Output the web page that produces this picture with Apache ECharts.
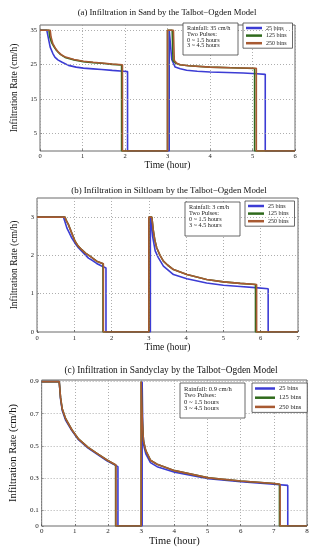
<!DOCTYPE html>
<html><head><meta charset="utf-8">
<script src="https://cdn.jsdelivr.net/npm/echarts@6/dist/echarts.min.js"></script>
<style>html,body{margin:0;padding:0;background:#fff}#c{width:318px;height:550px}</style>
</head><body><div id="c"></div>
<script>
// ---------- DATA ----------
const seriesNames = ['25 bins', '125 bins', '250 bins'];
const titles = [
  '(a) Infiltration in Sand by the Talbot\u2212Ogden Model',
  '(b) Infiltration in Siltloam by the Talbot\u2212Ogden Model',
  '(c) Infiltration in Sandyclay by the Talbot\u2212Ogden Model'
];
const rainfallLabels = ['Rainfall: 35 cm/h', 'Rainfall: 3 cm/h', 'Rainfall: 0.9 cm/h'];
const pulseLines = ['Two Pulses:', '0 ~ 1.5 hours', '3 ~ 4.5 hours'];
const xAxisTitle = 'Time (hour)';
const yAxisTitle = 'Infiltration Rate (cm/h)';
const xMaxes = [6, 7, 8];
const yMaxes = [36.5, 3.5, 0.91];
const sandYTicks = [5, 15, 25, 35];
const siltYTicks = [0, 1, 2, 3];
const clayYTicks = [0, 0.1, 0.3, 0.5, 0.7, 0.9];

// (a) Sand
const sandX25 = [0, 0.16, 0.2, 0.24, 0.3, 0.35, 0.42, 0.51, 0.67, 0.85, 1.02, 1.25, 1.45, 1.7, 1.96, 2.06, 2.06, 3.04, 3.04, 3.06, 3.1, 3.18, 3.3, 3.45, 3.7, 4.0, 4.4, 4.78, 5.1, 5.3, 5.3, 6];
const sandY25 = [35, 35, 32.5, 30.1, 28.3, 27.2, 26.4, 25.8, 24.8, 24.3, 24.0, 23.8, 23.6, 23.35, 23.1, 23.0, 0, 0, 35, 35, 26.5, 24.3, 23.8, 23.4, 23.1, 22.9, 22.75, 22.6, 22.4, 22.2, 0, 0];
const sandX125 = [0, 0.21, 0.23, 0.27, 0.33, 0.39, 0.48, 0.59, 0.8, 1.02, 1.25, 1.45, 1.7, 1.92, 1.92, 3.0, 3.0, 3.11, 3.13, 3.2, 3.29, 3.5, 4.0, 4.5, 5.05, 5.05, 6];
const sandY125 = [35, 35, 33, 31.5, 30.2, 29.1, 28.0, 27.1, 26.4, 25.9, 25.6, 25.4, 25.1, 24.9, 0, 0, 35, 35, 26.2, 25.4, 25.0, 24.7, 24.3, 24.1, 23.9, 0, 0];
const sandX250 = [0, 0.24, 0.26, 0.3, 0.36, 0.42, 0.5, 0.6, 0.8, 1.02, 1.25, 1.45, 1.7, 1.94, 1.94, 3.0, 3.0, 3.14, 3.16, 3.22, 3.3, 3.5, 4.0, 4.5, 5.09, 5.09, 6];
const sandY250 = [35, 35, 33, 31.2, 29.8, 28.8, 27.9, 27.2, 26.5, 26.0, 25.7, 25.5, 25.2, 25.0, 0, 0, 35, 35, 26.2, 25.4, 25.0, 24.7, 24.3, 24.1, 23.95, 0, 0];

// (b) Siltloam
const siltX25 = [0, 0.71, 0.75, 0.8, 0.87, 0.93, 1.02, 1.11, 1.25, 1.38, 1.5, 1.6, 1.72, 1.85, 1.85, 3.04, 3.04, 3.07, 3.1, 3.17, 3.25, 3.39, 3.66, 4.02, 4.55, 5.0, 5.45, 5.85, 6.2, 6.2, 7];
const siltY25 = [3, 3, 2.88, 2.72, 2.58, 2.46, 2.32, 2.2, 2.06, 1.93, 1.86, 1.79, 1.73, 1.67, 0, 0, 3, 2.8, 2.5, 2.12, 1.95, 1.72, 1.5, 1.39, 1.28, 1.22, 1.19, 1.16, 1.13, 0, 0];
const siltX125 = [0, 0.75, 0.79, 0.84, 0.93, 1.02, 1.1, 1.2, 1.3, 1.42, 1.6, 1.77, 1.77, 3.0, 3.0, 3.08, 3.12, 3.16, 3.21, 3.3, 3.39, 3.5, 3.66, 4.02, 4.55, 5.0, 5.45, 5.86, 5.86, 7];
const siltY125 = [3, 3, 2.9, 2.81, 2.59, 2.37, 2.25, 2.15, 2.06, 1.98, 1.85, 1.78, 0, 0, 3, 3, 2.65, 2.4, 2.2, 2.0, 1.85, 1.75, 1.63, 1.5, 1.37, 1.31, 1.27, 1.24, 0, 0];
const siltX250 = [0, 0.75, 0.79, 0.84, 0.93, 1.02, 1.1, 1.2, 1.3, 1.42, 1.6, 1.78, 1.78, 3.0, 3.0, 3.08, 3.12, 3.16, 3.21, 3.3, 3.39, 3.5, 3.66, 4.02, 4.55, 5.0, 5.45, 5.89, 5.89, 7];
const siltY250 = [3, 3, 2.9, 2.81, 2.59, 2.37, 2.25, 2.15, 2.06, 1.98, 1.85, 1.78, 0, 0, 3, 3, 2.65, 2.4, 2.2, 2.0, 1.85, 1.75, 1.63, 1.5, 1.37, 1.31, 1.27, 1.24, 0, 0];

// (c) Sandyclay
const clayX25 = [0, 0.53, 0.57, 0.62, 0.72, 0.91, 1.1, 1.4, 1.69, 1.98, 2.3, 2.3, 3.03, 3.03, 3.05, 3.08, 3.14, 3.28, 3.48, 4.01, 5.03, 6.0, 7.0, 7.42, 7.42, 8];
const clayY25 = [0.9, 0.9, 0.79, 0.72, 0.66, 0.595, 0.54, 0.485, 0.445, 0.405, 0.37, 0, 0, 0.9, 0.6, 0.5, 0.45, 0.395, 0.37, 0.335, 0.295, 0.276, 0.26, 0.253, 0, 0];
const clayX125 = [0, 0.53, 0.57, 0.62, 0.72, 0.91, 1.1, 1.4, 1.69, 1.98, 2.23, 2.23, 3.0, 3.0, 3.02, 3.04, 3.07, 3.14, 3.28, 3.48, 4.01, 5.03, 6.0, 7.01, 7.17, 7.17, 8];
const clayY125 = [0.9, 0.9, 0.8, 0.73, 0.67, 0.6, 0.545, 0.49, 0.45, 0.41, 0.38, 0, 0, 0.9, 0.75, 0.635, 0.53, 0.47, 0.41, 0.385, 0.345, 0.30, 0.28, 0.265, 0.26, 0, 0];
const clayX250 = [0, 0.53, 0.57, 0.62, 0.72, 0.91, 1.1, 1.4, 1.69, 1.98, 2.24, 2.24, 3.0, 3.0, 3.02, 3.04, 3.07, 3.14, 3.28, 3.48, 4.01, 5.03, 6.0, 7.01, 7.19, 7.19, 8];
const clayY250 = [0.9, 0.9, 0.8, 0.73, 0.67, 0.6, 0.545, 0.49, 0.45, 0.41, 0.38, 0, 0, 0.9, 0.75, 0.635, 0.53, 0.47, 0.41, 0.385, 0.345, 0.30, 0.28, 0.265, 0.26, 0, 0];

// ---------- BUILD ----------
const zip = (xs, ys) => xs.map((x, i) => [x, ys[i]]);
const panels = [
  [[sandX25, sandY25], [sandX125, sandY125], [sandX250, sandY250]],
  [[siltX25, siltY25], [siltX125, siltY125], [siltX250, siltY250]],
  [[clayX25, clayY25], [clayX125, clayY125], [clayX250, clayY250]]
];
const yTicks = [sandYTicks, siltYTicks, clayYTicks];
const colors = ['#3c3cd4', '#2f6a1c', '#a85a32'];
const FONT = 'Liberation Serif';

const grids = [
  {left: 40, top: 25, width: 255, height: 126},
  {left: 37, top: 198, width: 261, height: 134},
  {left: 32, top: 380, width: 275, height: 146}
];
const labelMargins = [2, 3, 2];
const xNameGaps = [9, 10, 8];
const yNameGaps = [11, 9, 13];
const nameSizes = [9.5, 9.5, 10.5];
const tickSizes = [6.5, 6.5, 7];
const titleSizes = [8.7, 8.9, 9.4];
const titleTops = [8, 186, 366];
const titleCenters = [167, 169, 171];

const option = {
  animation: false,
  backgroundColor: '#fff',
  color: colors,
  title: titles.map((t, i) => ({
    text: t, left: titleCenters[i], top: titleTops[i], textAlign: 'center', padding: 0,
    textStyle: {fontFamily: FONT, fontSize: titleSizes[i], fontWeight: 'normal', color: '#111'}
  })),
  grid: grids.map(g => Object.assign({show: true, borderColor: '#444', borderWidth: 0.8, backgroundColor: '#fff'}, g)),
  xAxis: grids.map((g, i) => ({
    type: 'value', gridIndex: i, min: 0, max: xMaxes[i], interval: 1,
    name: xAxisTitle, nameLocation: 'middle', nameGap: xNameGaps[i],
    nameTextStyle: {fontFamily: FONT, fontSize: nameSizes[i], color: '#111'},
    axisLine: {show: false},
    axisTick: {show: true, inside: true, length: 2, lineStyle: {color: '#444', width: 0.6}},
    axisLabel: {fontFamily: FONT, fontSize: tickSizes[i], color: '#222', margin: labelMargins[i]},
    splitLine: {show: true, lineStyle: {color: '#999', type: [1, 2], width: 0.8}}
  })),
  yAxis: grids.map((g, i) => ({
    type: 'value', gridIndex: i, min: 0, max: yMaxes[i],
    name: yAxisTitle, nameLocation: 'middle', nameGap: yNameGaps[i], nameRotate: 90,
    nameTextStyle: {fontFamily: FONT, fontSize: nameSizes[i], color: '#111'},
    axisLine: {show: false},
    axisTick: {show: true, inside: true, length: 2, customValues: yTicks[i], lineStyle: {color: '#444', width: 0.6}},
    axisLabel: {fontFamily: FONT, fontSize: tickSizes[i], color: '#222', margin: 3, customValues: yTicks[i], showMinLabel: true, showMaxLabel: true},
    splitLine: {show: false}
  })),
  legend: grids.map((g, i) => ({
    data: seriesNames,
    orient: 'vertical',
    left: [243, 245, 252][i], top: [23, 201, 383][i],
    itemWidth: [16, 16, 20][i], itemHeight: 2.5, icon: 'rect', itemGap: [1.6, 1.6, 2.2][i],
    padding: [2, 6, 2, 3],
    borderColor: '#444', borderWidth: 0.8, backgroundColor: '#fff',
    textStyle: {fontFamily: FONT, fontSize: [6, 6, 6.5][i], color: '#222', padding: [0, 0, 0, -1]}
  })),
  series: [],
  graphic: []
};

panels.forEach((pan, i) => {
  // dotted horizontal grid lines at the tick values
  option.series.push({
    type: 'line', xAxisIndex: i, yAxisIndex: i, data: [], silent: true, z: 1,
    markLine: {
      silent: true, symbol: ['none', 'none'], label: {show: false},
      lineStyle: {color: '#999', type: [1, 2], width: 0.8},
      data: yTicks[i].filter(v => v > 0).map(v => ({yAxis: v}))
    }
  });
  pan.forEach((xy, k) => {
    option.series.push({
      name: seriesNames[k], type: 'line', xAxisIndex: i, yAxisIndex: i,
      data: zip(xy[0], xy[1]), showSymbol: false, symbol: 'none', z: 3 + k,
      lineStyle: {width: 1.6, color: colors[k]}, itemStyle: {color: colors[k]}
    });
  });
});

// annotation boxes
const boxes = [
  {x: 183, y: 23, w: 55, h: 32, fs: 6.2, lh: 5.8},
  {x: 185, y: 202, w: 55, h: 34, fs: 6.2, lh: 6},
  {x: 180, y: 383, w: 65, h: 35, fs: 6.6, lh: 6.6}
];
boxes.forEach((b, i) => {
  option.graphic.push({
    type: 'rect', z: 100, shape: {x: b.x, y: b.y, width: b.w, height: b.h},
    style: {fill: '#fff', stroke: '#444', lineWidth: 0.8}
  });
  option.graphic.push({
    type: 'text', z: 101, x: b.x + 4, y: b.y + 2.5,
    style: {text: [rainfallLabels[i]].concat(pulseLines).join('\n'), fill: '#222',
      font: b.fs + 'px "' + FONT + '"', lineHeight: b.lh}
  });
});

const chart = echarts.init(document.getElementById('c'), null, {renderer: 'canvas'});
chart.setOption(option);
</script>
</body></html>
